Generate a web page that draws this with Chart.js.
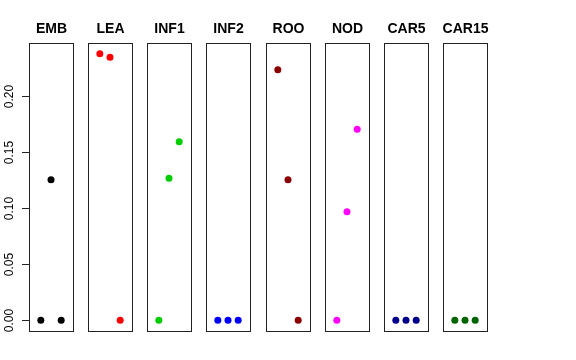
<!DOCTYPE html>
<html>
<head>
<meta charset="utf-8">
<script src="https://cdn.jsdelivr.net/npm/chart.js@4/dist/chart.umd.min.js"></script>
<style>
    html, body { margin: 0; padding: 0; background: #ffffff; }
    #wrap { position: relative; width: 576px; height: 360px; overflow: hidden; }
    .panel { position: absolute; top: 0; height: 360px; }
</style>
</head>
<body>
<div id="wrap"></div>
<script>
// Panel names, colours and values (x = 1, 2, 3 in every panel)
const panelNames = ['EMB', 'LEA', 'INF1', 'INF2', 'ROO', 'NOD', 'CAR5', 'CAR15'];
const panelColors = ['#000000', '#ff0000', '#00cd00', '#0000ff', '#8b0000', '#ff00ff', '#00008b', '#006400'];
const xValues = [1, 2, 3];
const valuesEMB = [0, 0.1255, 0];
const valuesLEA = [0.238, 0.2348, 0];
const valuesINF1 = [0, 0.1268, 0.1595];
const valuesINF2 = [0, 0, 0];
const valuesROO = [0.2238, 0.1255, 0];
const valuesNOD = [0, 0.097, 0.1705];
const valuesCAR5 = [0, 0, 0];
const valuesCAR15 = [0, 0, 0];
const panelValues = [valuesEMB, valuesLEA, valuesINF1, valuesINF2, valuesROO, valuesNOD, valuesCAR5, valuesCAR15];
const yTickValues = [0, 0.05, 0.10, 0.15, 0.20];
const yTickLabels = ['0.00', '0.05', '0.10', '0.15', '0.20'];

// Layout of the small multiples
const firstBoxLeft = 29;
const boxPitch = 59.14;
const boxWidth = 44;
const boxTop = 43;
const boxBottom = 331;
const padLeft = 29;
const padRight = 15;

// Draws the panel frame, title and (on the first panel) the y axis
const panelPlugin = {
    id: 'panelPlugin',
    afterDraw(chart, args, opts) {
        const ctx = chart.ctx;
        const area = chart.chartArea;
        ctx.save();
        ctx.strokeStyle = '#222222';
        ctx.lineWidth = 1;
        ctx.strokeRect(area.left + 0.5, area.top + 0.5, area.right - area.left, area.bottom - area.top);

        ctx.fillStyle = '#000000';
        ctx.font = 'bold 14px "Liberation Sans", Arial, sans-serif';
        ctx.textAlign = 'center';
        ctx.textBaseline = 'alphabetic';
        ctx.fillText(opts.title, (area.left + area.right) / 2 + 0.5, 33);

        if (opts.showAxis) {
            const yScale = chart.scales.y;
            ctx.font = '12px "Liberation Sans", Arial, sans-serif';
            yTickValues.forEach((v, i) => {
                const py = Math.round(yScale.getPixelForValue(v)) + 0.5;
                ctx.beginPath();
                ctx.moveTo(area.left - 7, py);
                ctx.lineTo(area.left, py);
                ctx.stroke();
                ctx.save();
                ctx.translate(area.left - 16, py);
                ctx.rotate(-Math.PI / 2);
                ctx.fillText(yTickLabels[i], 0, 0);
                ctx.restore();
            });
            // axis line between first and last tick
            ctx.beginPath();
            ctx.moveTo(area.left + 0.5, yScale.getPixelForValue(yTickValues[0]));
            ctx.lineTo(area.left + 0.5, yScale.getPixelForValue(yTickValues[yTickValues.length - 1]));
            ctx.stroke();
        }
        ctx.restore();
    }
};

const wrap = document.getElementById('wrap');

panelNames.forEach((name, i) => {
    const boxLeft = Math.round(firstBoxLeft + i * boxPitch);
    const div = document.createElement('div');
    div.className = 'panel';
    div.style.left = (boxLeft - padLeft) + 'px';
    div.style.width = (padLeft + boxWidth + padRight) + 'px';
    const canvas = document.createElement('canvas');
    div.appendChild(canvas);
    wrap.appendChild(div);

    new Chart(canvas.getContext('2d'), {
        type: 'scatter',
        data: {
            datasets: [{
                data: xValues.map((x, j) => ({ x: x, y: panelValues[i][j] })),
                backgroundColor: panelColors[i],
                borderColor: panelColors[i],
                pointRadius: 3.5,
                pointBorderWidth: 0
            }]
        },
        options: {
            responsive: true,
            maintainAspectRatio: false,
            animation: false,
            events: [],
            layout: {
                padding: { left: padLeft, right: padRight, top: boxTop, bottom: 360 - boxBottom }
            },
            scales: {
                x: { type: 'linear', min: -0.16, max: 4.16, display: false },
                y: { type: 'linear', min: -0.0095, max: 0.2476, display: false }
            },
            plugins: {
                legend: { display: false },
                tooltip: { enabled: false },
                panelPlugin: { title: name, showAxis: i === 0 }
            }
        },
        plugins: [panelPlugin]
    });
});
</script>
</body>
</html>
